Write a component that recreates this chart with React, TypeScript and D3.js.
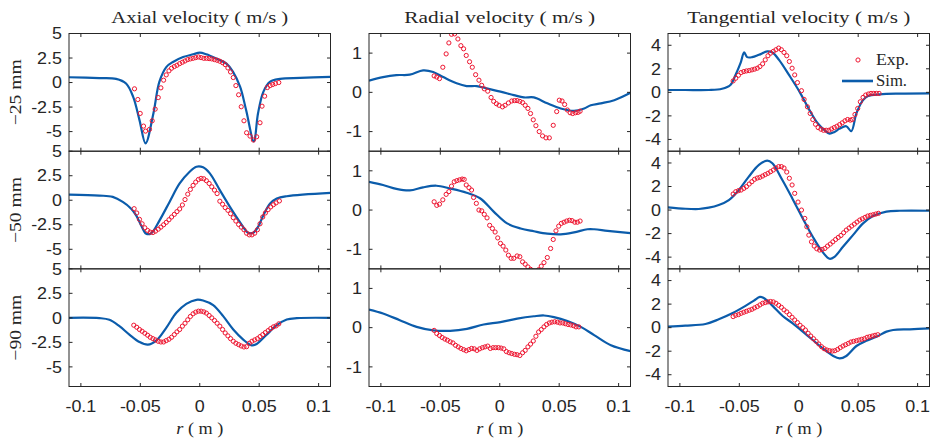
import React from "react";
import * as d3 from "d3";

type P = [number, number];

// ---- categories / labels ----
const columnTitles = ["Axial velocity ( m/s )", "Radial velocity ( m/s )", "Tangential velocity ( m/s )"];
const rowLabels = ["\u221225 mm", "\u221250 mm", "\u221290 mm"];
const xTicks = [-0.1, -0.05, 0, 0.05, 0.1];
const xTickLabels = ["-0.1", "-0.05", "0", "0.05", "0.1"];
const axialTicks = [5, 2.5, 0, -2.5, -5];
const axialTickLabels = ["5", "2.5", "0", "-2.5", "-5"];
const radialTicks = [1, 0, -1];
const radialTickLabels = ["1", "0", "-1"];
const tangTicks = [4, 2, 0, -2, -4];
const tangTickLabels = ["4", "2", "0", "-2", "-4"];
const xDomain: P = [-0.11, 0.11];
const axialDomain: P = [-7, 5];
const radialDomain: P = [-1.5, 1.5];
const tangDomain: P = [-5, 5];

// ---- Axial velocity ----
const axial25Sim: P[] = [
  [-0.11, 0.54], [-0.0845, 0.45], [-0.0704, 0.37], [-0.062, -0.1], [-0.056, -1.46], [-0.0507, -3.83],
  [-0.0456, -6.2], [-0.039, -3.15], [-0.034, 0.07], [-0.028, 1.6], [-0.0225, 2.1], [-0.014, 2.6],
  [-0.0056, 2.88], [0, 3.05], [0.0056, 2.88], [0.014, 2.44], [0.0225, 1.93], [0.028, 1.08],
  [0.034, -0.44], [0.039, -2.8], [0.0455, -6.0], [0.049, -3.15], [0.0535, -0.95], [0.059, 0.07],
  [0.0676, 0.37], [0.0845, 0.47], [0.11, 0.58],
];
const axial25Exp: P[] = [
  [-0.0549, -0.64], [-0.0521, -1.73], [-0.0501, -3.15], [-0.0473, -4.44], [-0.0456, -4.95], [-0.0423, -4.78],
  [-0.04, -3.9], [-0.0375, -2.71], [-0.0349, -1.53], [-0.0327, -0.54], [-0.0304, 0.24], [-0.0282, 0.78],
  [-0.0259, 1.19], [-0.0237, 1.46], [-0.0214, 1.63], [-0.0192, 1.76], [-0.0169, 1.93], [-0.0146, 2.07],
  [-0.0124, 2.2], [-0.0101, 2.34], [-0.0079, 2.41], [-0.0056, 2.47], [-0.0034, 2.54], [-0.0011, 2.61],
  [0.0011, 2.54], [0.0034, 2.47], [0.0056, 2.47], [0.0079, 2.44], [0.0101, 2.41], [0.0124, 2.34],
  [0.0146, 2.27], [0.0169, 2.17], [0.0192, 2.03], [0.0214, 1.83], [0.0237, 1.49], [0.0259, 1.08],
  [0.0282, 0.51], [0.0304, -0.31], [0.0327, -1.25], [0.0349, -2.47], [0.0372, -3.9], [0.0394, -5.12],
  [0.0423, -5.46], [0.0451, -5.86], [0.0479, -5.53], [0.0507, -4.1], [0.0524, -2.41], [0.0546, -1.39],
  [0.0569, -0.51], [0.0592, -0.31], [0.0614, -0.2], [0.0637, -0.1], [0.0665, 0.0],
];
const axial50Sim: P[] = [
  [-0.11, 0.58], [-0.0845, 0.48], [-0.0732, 0.34], [-0.0648, -0.17], [-0.0577, -0.86], [-0.0535, -1.54],
  [-0.0493, -2.57], [-0.045, -3.42], [-0.0408, -3.36], [-0.0338, -2.05], [-0.0254, -0.17], [-0.0169, 1.71],
  [-0.0085, 2.91], [-0.0028, 3.42], [0.0028, 3.36], [0.0085, 2.74], [0.0169, 1.03], [0.0254, -0.68],
  [0.0338, -2.23], [0.0408, -3.32], [0.045, -3.32], [0.0493, -2.67], [0.0535, -1.54], [0.0592, -0.34],
  [0.0648, 0.17], [0.0732, 0.41], [0.11, 0.75],
];
const axial50Exp: P[] = [
  [-0.0552, -0.86], [-0.053, -1.3], [-0.0507, -1.95], [-0.0485, -2.4], [-0.0462, -2.81], [-0.0439, -3.08],
  [-0.0417, -3.25], [-0.0394, -3.29], [-0.0372, -3.15], [-0.0349, -2.95], [-0.0327, -2.74], [-0.0304, -2.5],
  [-0.0282, -2.26], [-0.0259, -1.99], [-0.0237, -1.71], [-0.0214, -1.44], [-0.0192, -1.16], [-0.0169, -0.89],
  [-0.0146, -0.48], [-0.0124, 0.07], [-0.0101, 0.62], [-0.0079, 1.1], [-0.0056, 1.51], [-0.0034, 1.85],
  [-0.0011, 2.12], [0.0011, 2.23], [0.0034, 2.19], [0.0056, 1.99], [0.0079, 1.71], [0.0101, 1.37],
  [0.0124, 1.03], [0.0146, 0.68], [0.0169, -0.1], [0.0192, -0.41], [0.0214, -0.75], [0.0237, -1.03],
  [0.0259, -1.37], [0.0282, -1.78], [0.0304, -2.12], [0.0327, -2.47], [0.0349, -2.74], [0.0372, -3.01],
  [0.0394, -3.36], [0.0417, -3.53], [0.0439, -3.53], [0.0462, -3.36], [0.0485, -3.01], [0.0507, -2.4],
  [0.053, -1.71], [0.0552, -1.3], [0.0575, -0.96], [0.0597, -0.68], [0.062, -0.45], [0.0642, -0.27],
  [0.067, -0.07],
];
const axial90Sim: P[] = [
  [-0.11, 0.0], [-0.0845, -0.03], [-0.076, -0.2], [-0.0676, -0.85], [-0.0592, -1.71], [-0.0507, -2.46],
  [-0.0437, -2.73], [-0.0366, -2.32], [-0.0282, -1.02], [-0.0197, 0.51], [-0.0113, 1.43], [-0.0028, 1.84],
  [0.0028, 1.77], [0.0113, 1.3], [0.0197, 0.17], [0.0282, -1.19], [0.0366, -2.22], [0.0437, -2.8],
  [0.0479, -2.66], [0.0563, -1.71], [0.0648, -0.75], [0.0732, -0.17], [0.0817, -0.03], [0.11, 0.0],
];
const axial90Exp: P[] = [
  [-0.0555, -0.75], [-0.053, -0.96], [-0.0507, -1.19], [-0.0485, -1.37], [-0.0462, -1.57], [-0.0439, -1.77],
  [-0.0417, -1.98], [-0.0394, -2.12], [-0.0372, -2.25], [-0.0349, -2.39], [-0.0327, -2.46], [-0.0304, -2.46],
  [-0.0282, -2.32], [-0.0259, -2.18], [-0.0237, -1.98], [-0.0214, -1.71], [-0.0192, -1.43], [-0.0169, -1.19],
  [-0.0146, -0.85], [-0.0124, -0.55], [-0.0101, -0.2], [-0.0079, 0.14], [-0.0056, 0.41], [-0.0034, 0.58],
  [-0.0011, 0.68], [0.0011, 0.68], [0.0034, 0.61], [0.0056, 0.48], [0.0079, 0.24], [0.0101, 0.0],
  [0.0124, -0.27], [0.0146, -0.55], [0.0169, -0.85], [0.0192, -1.19], [0.0214, -1.54], [0.0237, -1.84],
  [0.0259, -2.12], [0.0282, -2.39], [0.0304, -2.59], [0.0327, -2.73], [0.0349, -2.87], [0.0372, -2.97],
  [0.0394, -2.94], [0.0417, -2.59], [0.0439, -2.39], [0.0462, -2.25], [0.0485, -2.12], [0.0507, -1.91],
  [0.053, -1.71], [0.0552, -1.5], [0.0575, -1.3], [0.0597, -1.09], [0.062, -0.92], [0.0642, -0.82],
  [0.0665, -0.61],
];

// ---- Radial velocity ----
const radial25Sim: P[] = [
  [-0.11, 0.3], [-0.0982, 0.39], [-0.087, 0.44], [-0.0757, 0.45], [-0.0645, 0.56], [-0.056, 0.52],
  [-0.0476, 0.39], [-0.0363, 0.23], [-0.0279, 0.16], [-0.0194, 0.16], [-0.011, 0.1], [0.0006, 0.02],
  [0.0118, -0.07], [0.0203, -0.13], [0.0287, -0.13], [0.04, -0.28], [0.0513, -0.41], [0.0625, -0.47],
  [0.071, -0.41], [0.0766, -0.33], [0.085, -0.28], [0.0963, -0.2], [0.11, -0.01],
];
const radial25Exp: P[] = [
  [-0.0552, 0.42], [-0.053, 0.39], [-0.0507, 0.35], [-0.0479, 0.64], [-0.0451, 0.98], [-0.0428, 1.26],
  [-0.0406, 1.48], [-0.038, 1.49], [-0.0352, 1.36], [-0.0327, 1.19], [-0.0304, 1.11], [-0.0282, 0.94],
  [-0.0254, 0.78], [-0.0231, 0.64], [-0.0203, 0.45], [-0.0175, 0.31], [-0.0152, 0.18], [-0.013, 0.09],
  [-0.0101, 0.03], [-0.0073, -0.13], [-0.0051, -0.23], [-0.0028, -0.29], [-0.0006, -0.33], [0.0023, -0.37],
  [0.0045, -0.33], [0.0073, -0.27], [0.0101, -0.22], [0.0124, -0.21], [0.0146, -0.21], [0.0169, -0.23],
  [0.0192, -0.26], [0.0214, -0.33], [0.0237, -0.41], [0.0259, -0.54], [0.0282, -0.7], [0.0304, -0.85],
  [0.0332, -1.0], [0.036, -1.11], [0.0389, -1.16], [0.0417, -1.16], [0.045, -0.84], [0.0479, -0.49],
  [0.0501, -0.2], [0.0524, -0.22], [0.0546, -0.31], [0.0569, -0.45], [0.0592, -0.52], [0.0614, -0.54],
  [0.0637, -0.52], [0.0659, -0.51], [0.0676, -0.48],
];
const radial50Sim: P[] = [
  [-0.11, 0.72], [-0.0982, 0.64], [-0.087, 0.54], [-0.0757, 0.5], [-0.0645, 0.58], [-0.0532, 0.62],
  [-0.042, 0.55], [-0.0279, 0.44], [-0.0166, 0.3], [-0.0051, -0.04], [0.0062, -0.34], [0.0175, -0.47],
  [0.0287, -0.54], [0.04, -0.6], [0.0513, -0.62], [0.0625, -0.57], [0.0738, -0.49], [0.0794, -0.49],
  [0.0907, -0.53], [0.11, -0.59],
];
const radial50Exp: P[] = [
  [-0.0552, 0.21], [-0.053, 0.12], [-0.0507, 0.15], [-0.0479, 0.26], [-0.0451, 0.4], [-0.0428, 0.47],
  [-0.0406, 0.61], [-0.0383, 0.72], [-0.0361, 0.75], [-0.0338, 0.77], [-0.0316, 0.79], [-0.0299, 0.78],
  [-0.0282, 0.64], [-0.0259, 0.57], [-0.0237, 0.51], [-0.022, 0.32], [-0.0197, 0.17], [-0.0175, 0.0],
  [-0.0152, -0.02], [-0.013, -0.11], [-0.0107, -0.2], [-0.0085, -0.39], [-0.0062, -0.47], [-0.0039, -0.56],
  [-0.0017, -0.71], [0.0006, -0.85], [0.0028, -0.92], [0.0051, -1.02], [0.0073, -1.15], [0.0096, -1.23],
  [0.0118, -1.23], [0.0146, -1.17], [0.0169, -1.19], [0.0192, -1.32], [0.0214, -1.38], [0.0237, -1.45],
  [0.0259, -1.51], [0.0282, -1.56], [0.0304, -1.58], [0.0327, -1.52], [0.0349, -1.43], [0.0372, -1.34],
  [0.04, -1.21], [0.0428, -0.98], [0.045, -0.75], [0.0473, -0.53], [0.0496, -0.41], [0.0518, -0.34],
  [0.0541, -0.31], [0.0563, -0.28], [0.0586, -0.26], [0.0608, -0.27], [0.0631, -0.31], [0.0653, -0.31],
  [0.0676, -0.28],
];
const radial90Sim: P[] = [
  [-0.11, 0.46], [-0.0982, 0.36], [-0.0841, 0.19], [-0.07, 0.02], [-0.0558, -0.07], [-0.0417, -0.08],
  [-0.0276, -0.03], [-0.0135, 0.08], [0.0006, 0.14], [0.0147, 0.23], [0.0287, 0.29], [0.0372, 0.31],
  [0.0456, 0.27], [0.0569, 0.17], [0.0682, 0.02], [0.0794, -0.19], [0.0935, -0.45], [0.11, -0.6],
];
const radial90Exp: P[] = [
  [-0.0552, -0.07], [-0.053, -0.15], [-0.0507, -0.2], [-0.0485, -0.25], [-0.0462, -0.29], [-0.044, -0.32],
  [-0.0417, -0.36], [-0.0394, -0.39], [-0.0372, -0.45], [-0.0349, -0.49], [-0.0327, -0.53], [-0.0304, -0.56],
  [-0.0282, -0.59], [-0.0259, -0.56], [-0.0237, -0.53], [-0.0214, -0.54], [-0.0192, -0.58], [-0.0169, -0.54],
  [-0.0146, -0.51], [-0.0124, -0.49], [-0.0101, -0.47], [-0.0079, -0.53], [-0.0056, -0.51], [-0.0034, -0.51],
  [-0.0011, -0.51], [0.0011, -0.52], [0.0034, -0.54], [0.0056, -0.61], [0.0079, -0.64], [0.0101, -0.66],
  [0.0124, -0.68], [0.0146, -0.69], [0.0169, -0.71], [0.0192, -0.64], [0.0214, -0.58], [0.0237, -0.49],
  [0.0259, -0.42], [0.0282, -0.34], [0.0304, -0.22], [0.0327, -0.11], [0.0349, -0.05], [0.0372, 0.02],
  [0.0394, 0.08], [0.0417, 0.12], [0.0439, 0.14], [0.0462, 0.15], [0.0485, 0.14], [0.0507, 0.12],
  [0.053, 0.12], [0.0552, 0.1], [0.0575, 0.08], [0.0597, 0.07], [0.062, 0.05], [0.0642, 0.02],
  [0.0665, 0.02],
];

// ---- Tangential velocity ----
const tang25Sim: P[] = [
  [-0.11, 0.2], [-0.0954, 0.2], [-0.0757, 0.2], [-0.0645, 0.31], [-0.0575, 0.63], [-0.0532, 1.48],
  [-0.049, 2.48], [-0.0459, 3.39], [-0.0434, 2.99], [-0.0392, 2.99], [-0.0335, 3.19], [-0.0265, 3.48],
  [-0.0222, 3.39], [-0.0166, 2.76], [-0.0082, 1.48], [0.0006, 0.06], [0.009, -1.51], [0.0161, -2.65],
  [0.0217, -3.22], [0.0259, -3.5], [0.0301, -3.36], [0.0344, -3.08], [0.04, -2.88], [0.0442, -3.3],
  [0.0485, -1.79], [0.0541, -0.66], [0.0583, -0.31], [0.0682, -0.17], [0.085, -0.11], [0.11, -0.09],
];
const tang25Exp: P[] = [
  [-0.0552, 0.97], [-0.053, 1.2], [-0.0507, 1.45], [-0.0485, 1.68], [-0.0462, 1.77], [-0.044, 1.82],
  [-0.0417, 1.85], [-0.0394, 1.91], [-0.0372, 1.97], [-0.0349, 2.05], [-0.0327, 2.19], [-0.0304, 2.42],
  [-0.0282, 2.76], [-0.0259, 3.11], [-0.0237, 3.33], [-0.0214, 3.48], [-0.0192, 3.62], [-0.0169, 3.76],
  [-0.0146, 3.62], [-0.0124, 3.39], [-0.0101, 3.11], [-0.0079, 2.62], [-0.0056, 2.05], [-0.0034, 1.48],
  [-0.0011, 0.83], [0.0023, 0.14], [0.0045, -0.6], [0.0073, -1.23], [0.0096, -1.79], [0.0118, -2.31],
  [0.0141, -2.71], [0.0163, -2.99], [0.0186, -3.13], [0.0208, -3.22], [0.0231, -3.22], [0.0254, -3.22],
  [0.0276, -3.11], [0.0299, -2.99], [0.0321, -2.88], [0.0344, -2.74], [0.0366, -2.59], [0.0389, -2.42],
  [0.0411, -2.31], [0.0434, -2.36], [0.0451, -2.31], [0.0473, -1.88], [0.0496, -1.37], [0.0518, -0.8],
  [0.0541, -0.43], [0.0563, -0.23], [0.0586, -0.14], [0.0608, -0.09], [0.0631, -0.09], [0.0653, -0.09],
  [0.0676, -0.09],
];
const tang50Sim: P[] = [
  [-0.11, 0.23], [-0.0954, 0.11], [-0.0841, 0.09], [-0.0757, 0.2], [-0.0673, 0.43], [-0.0588, 0.85],
  [-0.0504, 1.7], [-0.042, 2.84], [-0.0335, 3.83], [-0.0265, 4.2], [-0.0222, 3.97], [-0.0138, 2.55],
  [-0.0054, 0.99], [0.0034, -0.71], [0.0118, -2.27], [0.0189, -3.4], [0.0259, -4.14], [0.0301, -3.97],
  [0.0372, -3.12], [0.0456, -2.13], [0.0541, -1.13], [0.0625, -0.51], [0.0738, -0.14], [0.085, -0.06],
  [0.11, -0.06],
];
const tang50Exp: P[] = [
  [-0.0552, 1.36], [-0.053, 1.56], [-0.0507, 1.65], [-0.0485, 1.7], [-0.0462, 1.84], [-0.044, 1.99],
  [-0.0417, 2.21], [-0.0394, 2.41], [-0.0372, 2.61], [-0.0349, 2.72], [-0.0327, 2.78], [-0.0304, 2.89],
  [-0.0282, 3.01], [-0.0259, 3.12], [-0.0237, 3.26], [-0.0214, 3.4], [-0.0192, 3.57], [-0.0169, 3.69],
  [-0.0146, 3.69], [-0.0124, 3.57], [-0.0101, 3.23], [-0.0079, 2.7], [-0.0056, 2.13], [-0.0034, 1.42],
  [-0.0006, 0.68], [0.0023, 0.0], [0.0051, -0.71], [0.0068, -1.42], [0.0085, -2.13], [0.0107, -2.7],
  [0.013, -3.06], [0.0152, -3.29], [0.0175, -3.4], [0.0197, -3.35], [0.022, -3.26], [0.0242, -3.06],
  [0.0265, -2.89], [0.0287, -2.7], [0.031, -2.5], [0.0332, -2.33], [0.0355, -2.16], [0.0377, -1.93],
  [0.04, -1.7], [0.0423, -1.53], [0.0445, -1.36], [0.0468, -1.19], [0.049, -1.02], [0.0513, -0.85],
  [0.0535, -0.74], [0.0558, -0.62], [0.058, -0.51], [0.0603, -0.45], [0.0625, -0.4], [0.0648, -0.34],
  [0.067, -0.28],
];
const tang90Sim: P[] = [
  [-0.11, 0.09], [-0.0954, 0.17], [-0.0785, 0.31], [-0.0673, 0.71], [-0.056, 1.22], [-0.0448, 1.85],
  [-0.0377, 2.3], [-0.0327, 2.61], [-0.0291, 2.5], [-0.022, 1.85], [-0.0135, 0.99], [-0.0051, 0.37],
  [0.0034, -0.34], [0.0118, -1.05], [0.0203, -1.76], [0.0287, -2.39], [0.0344, -2.61], [0.04, -2.41],
  [0.0485, -1.56], [0.0569, -1.11], [0.0654, -0.77], [0.0738, -0.34], [0.0794, -0.2], [0.0935, -0.14],
  [0.11, -0.06],
];
const tang90Exp: P[] = [
  [-0.0552, 0.94], [-0.053, 1.05], [-0.0507, 1.11], [-0.0485, 1.22], [-0.0462, 1.31], [-0.044, 1.39],
  [-0.0417, 1.48], [-0.0394, 1.56], [-0.0372, 1.68], [-0.0349, 1.79], [-0.0327, 1.93], [-0.0304, 2.07],
  [-0.0282, 2.13], [-0.0259, 2.19], [-0.0237, 2.22], [-0.0214, 2.19], [-0.0192, 2.07], [-0.0169, 1.9],
  [-0.0146, 1.73], [-0.0124, 1.51], [-0.0101, 1.34], [-0.0079, 1.11], [-0.0056, 0.88], [-0.0034, 0.65],
  [-0.0011, 0.43], [0.0011, 0.2], [0.0034, 0.0], [0.0056, -0.2], [0.0079, -0.48], [0.0101, -0.71],
  [0.0124, -0.94], [0.0146, -1.16], [0.0169, -1.39], [0.0192, -1.62], [0.0214, -1.79], [0.0237, -1.9],
  [0.0259, -1.96], [0.0282, -1.99], [0.0304, -1.96], [0.0327, -1.85], [0.0349, -1.7], [0.0372, -1.56],
  [0.0394, -1.45], [0.0417, -1.34], [0.0439, -1.22], [0.0462, -1.16], [0.0485, -1.11], [0.0507, -1.05],
  [0.053, -0.99], [0.0552, -0.94], [0.0575, -0.82], [0.0597, -0.77], [0.062, -0.71], [0.0642, -0.65],
  [0.0665, -0.6],
];

const LINE = "#0b5cab";
const MARK = "#ee1530";
const AXIS = "#262626";
const SANS = "'Liberation Sans', Arial, Helvetica, sans-serif";
const SERIF = "'Liberation Serif', 'Times New Roman', serif";

const colLeft = [69, 369, 668];
const panelW = 261.5;
const rowTop = [33.5, 151.2, 268.8];
const panelH = 117.7;

type PanelSpec = {
  domain: P; ticks: number[]; labels: string[]; sim: P[]; exp: P[];
};

const panels: PanelSpec[][] = [
  [
    { domain: axialDomain, ticks: axialTicks, labels: axialTickLabels, sim: axial25Sim, exp: axial25Exp },
    { domain: radialDomain, ticks: radialTicks, labels: radialTickLabels, sim: radial25Sim, exp: radial25Exp },
    { domain: tangDomain, ticks: tangTicks, labels: tangTickLabels, sim: tang25Sim, exp: tang25Exp },
  ],
  [
    { domain: axialDomain, ticks: axialTicks, labels: axialTickLabels, sim: axial50Sim, exp: axial50Exp },
    { domain: radialDomain, ticks: radialTicks, labels: radialTickLabels, sim: radial50Sim, exp: radial50Exp },
    { domain: tangDomain, ticks: tangTicks, labels: tangTickLabels, sim: tang50Sim, exp: tang50Exp },
  ],
  [
    { domain: axialDomain, ticks: axialTicks, labels: axialTickLabels, sim: axial90Sim, exp: axial90Exp },
    { domain: radialDomain, ticks: radialTicks, labels: radialTickLabels, sim: radial90Sim, exp: radial90Exp },
    { domain: tangDomain, ticks: tangTicks, labels: tangTickLabels, sim: tang90Sim, exp: tang90Exp },
  ],
];

const titleWidths = [177, 191, 223];
const TICK = 3.5;
const TICK_FS = 16;
const TICK_SX = 1.12;

function TickText({ x, y, anchor, children }: { x: number; y: number; anchor: "end" | "middle"; children: string }) {
  return (
    <g transform={`translate(${x},${y}) scale(${TICK_SX},1)`}>
      <text x={0} y={0} textAnchor={anchor} fontFamily={SANS} fontSize={TICK_FS} fill={AXIS}>
        {children}
      </text>
    </g>
  );
}

function Panel({ spec, row, col }: { spec: PanelSpec; row: number; col: number }) {
  const x0 = colLeft[col];
  const y0 = rowTop[row];
  const x = d3.scaleLinear().domain(xDomain).range([x0, x0 + panelW]);
  const y = d3.scaleLinear().domain(spec.domain).range([y0 + panelH, y0]);
  const line = d3.line<P>().x((d) => x(d[0])).y((d) => y(d[1])).curve(d3.curveCatmullRom.alpha(0.5));
  const clipId = `clip-${row}-${col}`;
  const bottom = y0 + panelH;
  const right = x0 + panelW;
  return (
    <g>
      <defs>
        <clipPath id={clipId}>
          <rect x={x0} y={y0} width={panelW} height={panelH} />
        </clipPath>
      </defs>
      <g clipPath={`url(#${clipId})`}>
        <path d={line(spec.sim) || ""} fill="none" stroke={LINE} strokeWidth={2.2} strokeLinejoin="round" />
        {spec.exp.map((d, i) => (
          <circle key={i} cx={x(d[0])} cy={y(d[1])} r={2.1} fill="none" stroke={MARK} strokeWidth={1} />
        ))}
      </g>
      <rect x={x0} y={y0} width={panelW} height={panelH} fill="none" stroke={AXIS} strokeWidth={1} />
      {xTicks.map((t, i) => (
        <g key={"xt" + i}>
          <line x1={x(t)} x2={x(t)} y1={bottom} y2={bottom - TICK} stroke={AXIS} />
          <line x1={x(t)} x2={x(t)} y1={y0} y2={y0 + TICK} stroke={AXIS} />
          {row === 2 && <TickText x={x(t)} y={411.5} anchor="middle">{xTickLabels[i]}</TickText>}
        </g>
      ))}
      {spec.ticks.map((t, i) => (
        <g key={"yt" + i}>
          <line x1={x0} x2={x0 + TICK} y1={y(t)} y2={y(t)} stroke={AXIS} />
          <line x1={right} x2={right - TICK} y1={y(t)} y2={y(t)} stroke={AXIS} />
          <TickText x={x0 - 7} y={y(t) + 5.7} anchor="end">{spec.labels[i]}</TickText>
        </g>
      ))}
    </g>
  );
}

export default function App() {
  return (
    <svg width={935} height={442} style={{ display: "block", position: "absolute", left: 0, top: 0, background: "#fff" }}>
      {columnTitles.map((t, c) => (
        <text key={t} x={colLeft[c] + panelW / 2} y={23} textAnchor="middle" fontFamily={SERIF} fontSize={16.5}
          fill={AXIS} textLength={titleWidths[c]} lengthAdjust="spacingAndGlyphs">
          {t}
        </text>
      ))}
      {rowLabels.map((t, r) => (
        <text key={t} transform={`translate(21,${rowTop[r] + panelH / 2}) rotate(-90)`} textAnchor="middle"
          fontFamily={SERIF} fontSize={16.5} fill={AXIS} textLength={66} lengthAdjust="spacingAndGlyphs">
          {t}
        </text>
      ))}
      {panels.map((rowSpecs, r) => rowSpecs.map((s, c) => <Panel key={`${r}-${c}`} spec={s} row={r} col={c} />))}
      {colLeft.map((l, c) => (
        <text key={"xl" + c} x={l + panelW / 2} y={434} textAnchor="middle" fontFamily={SERIF} fontSize={17} fill={AXIS}
          textLength={47} lengthAdjust="spacingAndGlyphs">
          <tspan fontStyle="italic">r</tspan>
          <tspan> ( m )</tspan>
        </text>
      ))}
      {/* legend */}
      <circle cx={858} cy={60} r={2.1} fill="none" stroke={MARK} strokeWidth={1} />
      <text x={876} y={65} fontFamily={SERIF} fontSize={16.5} fill={AXIS} textLength={33} lengthAdjust="spacingAndGlyphs">Exp.</text>
      <line x1={842} x2={873} y1={81} y2={81} stroke={LINE} strokeWidth={2.6} />
      <text x={876} y={86} fontFamily={SERIF} fontSize={16.5} fill={AXIS} textLength={31} lengthAdjust="spacingAndGlyphs">Sim.</text>
    </svg>
  );
}
